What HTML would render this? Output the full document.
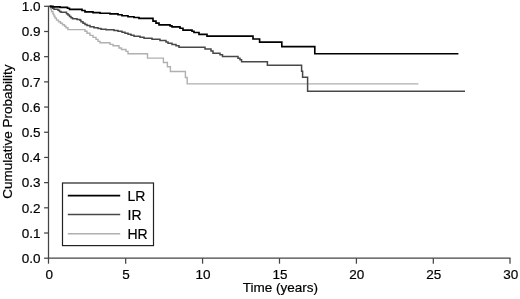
<!DOCTYPE html><html><head><meta charset="utf-8"><style>html,body{margin:0;padding:0;background:#fff}svg{display:block}</style></head><body><svg width="520" height="299" viewBox="0 0 520 299">
<rect width="520" height="299" fill="#fff"/>
<path d="M49.5,6.3 L50.5,6.3 L50.5,9.03 L51.5,9.03 L51.5,11.56 L53,11.56 L53,14.09 L54,14.09 L54,16.11 L55,16.11 L55,18.14 L56.5,18.14 L56.5,20.16 L58.5,20.16 L58.5,21.68 L60.5,21.68 L60.5,23.19 L62.5,23.19 L62.5,24.71 L64.5,24.71 L64.5,26.23 L66,26.23 L66,27.75 L68,27.75 L68,29.67 L85,29.67 L85,31.29 L87,31.29 L87,33.31 L90,33.31 L90,35.33 L93,35.33 L93,37.35 L96,37.35 L96,39.35 L98,39.35 L98,41.35 L100,41.35 L100,42.75 L110,42.75 L110,44.35 L113,44.35 L113,45.75 L119,45.75 L119,47.95 L121.5,47.95 L121.5,49.55 L126,49.55 L126,51.35 L128,51.35 L128,53.75 L147.5,53.75 L147.5,58.15 L163.4,58.15 L163.4,62.55 L167.4,62.55 L167.4,66.75 L170.4,66.75 L170.4,71.55 L185.4,71.55 L185.4,77.55 L187.2,77.55 L187.2,83.85 L418.4,83.85" fill="none" stroke="#b0b0b0" stroke-width="1.4"/>
<path d="M49.5,6.3 L51,6.3 L51,7.21 L52.5,7.21 L52.5,8.22 L54,8.22 L54,9.13 L58,9.13 L58,10.35 L59.5,10.35 L59.5,11.46 L61,11.46 L61,12.37 L66.5,12.37 L66.5,13.69 L68,13.69 L68,15.1 L69.5,15.1 L69.5,16.42 L71,16.42 L71,17.63 L72.5,17.63 L72.5,18.74 L77,18.74 L77,19.55 L80,19.55 L80,20.36 L81,20.36 L81,21.68 L83,21.68 L83,23.19 L85,23.19 L85,24.61 L87,24.61 L87,25.62 L90,25.62 L90,26.63 L94,26.63 L94,27.65 L98,27.65 L98,28.46 L101,28.46 L101,29.26 L106,29.26 L106,29.87 L114,29.87 L114,30.48 L118,30.48 L118,31.29 L122,31.29 L122,32.3 L125,32.3 L125,33.31 L128,33.31 L128,34.32 L131,34.32 L131,35.33 L134,35.33 L134,36.35 L140,36.35 L140,37.35 L144,37.35 L144,38.35 L152,38.35 L152,39.35 L160,39.35 L160,40.55 L166,40.55 L166,41.95 L168,41.95 L168,43.35 L172,43.35 L172,44.55 L176,44.55 L176,45.75 L179,45.75 L179,47.35 L205,47.35 L205,48.95 L211,48.95 L211,50.95 L213,50.95 L213,53.15 L220,53.15 L220,54.85 L222.5,54.85 L222.5,56.55 L238,56.55 L238,58.35 L240,58.35 L240,59.75 L241.6,59.75 L241.6,61.75 L267.4,61.75 L267.4,65.35 L301.6,65.35 L301.6,71.15 L302.6,71.15 L302.6,77.15 L307.6,77.15 L307.6,91.35 L465,91.35" fill="none" stroke="#484848" stroke-width="1.5"/>
<path d="M49.5,6.3 L53,6.3 L53,6.81 L60,6.81 L60,7.31 L67.5,7.31 L67.5,8.22 L69.5,8.22 L69.5,9.34 L82,9.34 L82,10.45 L85,10.45 L85,11.86 L93,11.86 L93,12.67 L100,12.67 L100,13.28 L110,13.28 L110,13.89 L118,13.89 L118,14.7 L122,14.7 L122,15.71 L128,15.71 L128,16.72 L134,16.72 L134,17.53 L139,17.53 L139,18.34 L153,18.34 L153,21.17 L156,21.17 L156,23.19 L159,23.19 L159,24.81 L170,24.81 L170,25.83 L172,25.83 L172,26.84 L180,26.84 L180,28.25 L183,28.25 L183,30.07 L192,30.07 L192,31.29 L194,31.29 L194,32.5 L199,32.5 L199,34.32 L207,34.32 L207,36.14 L253,36.14 L253,38.95 L259.6,38.95 L259.6,42.15 L281.8,42.15 L281.8,46.55 L314.8,46.55 L314.8,53.75 L458.4,53.75" fill="none" stroke="#000" stroke-width="1.65"/>
<g stroke="#444" stroke-width="1.25" fill="none">
<path d="M48.5,5.7 V258.2 H510.59"/>
<path d="M44.1,258.2 H48.5"/>
<path d="M44.1,233.01 H48.5"/>
<path d="M44.1,207.82 H48.5"/>
<path d="M44.1,182.63 H48.5"/>
<path d="M44.1,157.44 H48.5"/>
<path d="M44.1,132.25 H48.5"/>
<path d="M44.1,107.06 H48.5"/>
<path d="M44.1,81.87 H48.5"/>
<path d="M44.1,56.68 H48.5"/>
<path d="M44.1,31.49 H48.5"/>
<path d="M44.1,6.3 H48.5"/>
<path d="M48.5,258.2 V263.7"/>
<path d="M125.665,258.2 V263.7"/>
<path d="M202.58,258.2 V263.7"/>
<path d="M279.495,258.2 V263.7"/>
<path d="M356.41,258.2 V263.7"/>
<path d="M433.325,258.2 V263.7"/>
<path d="M509.99,258.2 V263.7"/>
</g>
<g font-family="Liberation Sans, Arial, sans-serif" font-size="13.5" fill="#000" stroke="#000" stroke-width="0.2">
<text x="40.6" y="263" text-anchor="end">0.0</text>
<text x="40.6" y="237.81" text-anchor="end">0.1</text>
<text x="40.6" y="212.62" text-anchor="end">0.2</text>
<text x="40.6" y="187.43" text-anchor="end">0.3</text>
<text x="40.6" y="162.24" text-anchor="end">0.4</text>
<text x="40.6" y="137.05" text-anchor="end">0.5</text>
<text x="40.6" y="111.86" text-anchor="end">0.6</text>
<text x="40.6" y="86.67" text-anchor="end">0.7</text>
<text x="40.6" y="61.48" text-anchor="end">0.8</text>
<text x="40.6" y="36.29" text-anchor="end">0.9</text>
<text x="40.6" y="11.1" text-anchor="end">1.0</text>
<text x="49.2" y="278.7" text-anchor="middle">0</text>
<text x="126.115" y="278.7" text-anchor="middle">5</text>
<text x="203.03" y="278.7" text-anchor="middle">10</text>
<text x="279.945" y="278.7" text-anchor="middle">15</text>
<text x="356.86" y="278.7" text-anchor="middle">20</text>
<text x="433.775" y="278.7" text-anchor="middle">25</text>
<text x="510.69" y="278.7" text-anchor="middle">30</text>
<text x="280.3" y="291.8" text-anchor="middle">Time (years)</text>
<text transform="translate(11.5,131.7) rotate(-90)" text-anchor="middle">Cumulative Probability</text>
<rect x="62.5" y="183" width="91" height="62.6" fill="#fff" stroke="#222" stroke-width="1.2"/>
<path d="M67.8,195.6 H120.2" stroke="#000" stroke-width="1.65"/>
<path d="M67.8,214.4 H120.2" stroke="#484848" stroke-width="1.5"/>
<path d="M67.8,233.7 H120.2" stroke="#b0b0b0" stroke-width="1.4"/>
<text x="127.5" y="200.6" font-size="14">LR</text>
<text x="127.5" y="219.6" font-size="14">IR</text>
<text x="127.5" y="238.6" font-size="14">HR</text>
</g>
</svg></body></html>
